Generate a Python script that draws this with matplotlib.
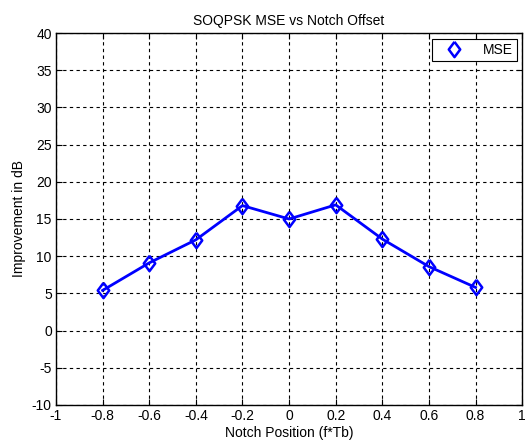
import numpy as np
import matplotlib
matplotlib.use('Agg')
import matplotlib.pyplot as plt

plt.rcParams['font.family'] = ['Liberation Sans', 'DejaVu Sans']
plt.rcParams['axes.unicode_minus'] = False

# 陷波位置與對應的 MSE 改善量
notch_pos = [-0.8, -0.6, -0.4, -0.2, 0.0, 0.2, 0.4, 0.6, 0.8]
mse_db = [5.4, 9.1, 12.2, 16.8, 15.0, 16.9, 12.3, 8.6, 5.8]

x_ticks = [-1, -0.8, -0.6, -0.4, -0.2, 0, 0.2, 0.4, 0.6, 0.8, 1]
x_tick_labels = ['-1', '-0.8', '-0.6', '-0.4', '-0.2', '0', '0.2', '0.4', '0.6', '0.8', '1']
y_ticks = list(range(-10, 41, 5))

# 稍窄的菱形標記
diamond = [(0, 1), (0.75, 0), (0, -1), (-0.75, 0), (0, 1)]

fig = plt.figure(figsize=(5.28, 4.46), dpi=100)
ax = fig.add_axes([0.106, 0.092, 0.883, 0.834])

ax.plot(notch_pos, mse_db, color='#0000ff', linewidth=2, marker=diamond,
        markersize=11, markerfacecolor='none', markeredgecolor='#0000ff',
        markeredgewidth=1.8, label='MSE')

ax.set_xlim(-1, 1)
ax.set_ylim(-10, 40)
ax.set_xticks(x_ticks)
ax.set_xticklabels(x_tick_labels)
ax.set_yticks(y_ticks)
ax.tick_params(direction='in', length=4, labelsize=10, top=True, right=True,
               labeltop=False, labelright=False, pad=3)

# 虛線格線
ax.grid(True, color='black', linestyle=(0, (3, 3)), linewidth=0.8)
for s in ax.spines.values():
    s.set_linewidth(1)

ax.set_xlabel('Notch Position (f*Tb)', fontsize=10, labelpad=2)
ax.set_ylabel('Improvement in dB', fontsize=10, labelpad=4)
ax.set_title('SOQPSK MSE vs Notch Offset', fontsize=10, pad=6)

leg = ax.legend(loc='upper right', fontsize=10, fancybox=False, framealpha=1,
                edgecolor='black', borderaxespad=0.4, handlelength=2.5,
                borderpad=0.3)
leg.legend_handles[0].set_linestyle('none')
leg.get_frame().set_linewidth(0.8)

fig.savefig('out.png', dpi=100)
